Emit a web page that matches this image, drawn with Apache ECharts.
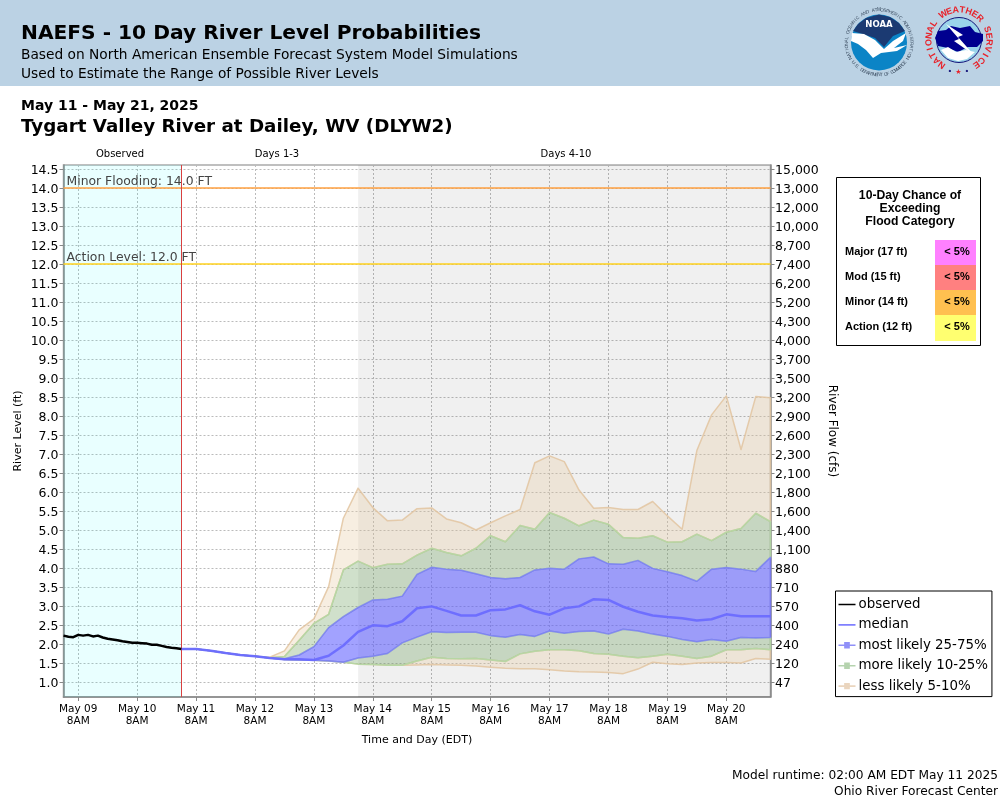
<!DOCTYPE html>
<html>
<head>
<meta charset="utf-8">
<title>NAEFS - 10 Day River Level Probabilities</title>
<script src="https://cdn.jsdelivr.net/npm/echarts@6/dist/echarts.min.js"></script>
<style>
  html, body { margin: 0; padding: 0; background: #fff; }
  #chart { width: 1000px; height: 800px; }
</style>
</head>
<body>
<div id="chart"></div>
<script>
// Hours are counted from May 09 02:00 EDT, the left edge of the plot
const dayLabels = ["May 09\n8AM", "May 10\n8AM", "May 11\n8AM", "May 12\n8AM", "May 13\n8AM", "May 14\n8AM",
  "May 15\n8AM", "May 16\n8AM", "May 17\n8AM", "May 18\n8AM", "May 19\n8AM", "May 20\n8AM"];
const levelTicks = [14.5, 14, 13.5, 13, 12.5, 12, 11.5, 11, 10.5, 10, 9.5, 9, 8.5, 8, 7.5, 7, 6.5, 6, 5.5, 5,
  4.5, 4, 3.5, 3, 2.5, 2, 1.5, 1];
const flowLabels = ["15,000", "13,000", "12,000", "10,000", "8,700", "7,400", "6,200", "5,200", "4,300", "4,000",
  "3,700", "3,500", "3,200", "2,900", "2,600", "2,300", "2,100", "1,800", "1,600", "1,400",
  "1,100", "880", "710", "570", "400", "240", "120", "47"];

// observed stage, one reading every 2 hours up to model runtime
const observed = [2.22, 2.19, 2.18, 2.24, 2.22, 2.24, 2.20, 2.22, 2.17, 2.14, 2.12, 2.10, 2.07,
  2.05, 2.03, 2.03, 2.02, 2.01, 1.98, 1.98, 1.95, 1.92, 1.90, 1.89, 1.87];

// forecast percentiles, one value every 6 hours from May 11 02:00
const median = [1.87, 1.87, 1.82, 1.76, 1.71, 1.68, 1.63, 1.60, 1.60, 1.58, 1.69, 1.96, 2.32, 2.49, 2.47, 2.60, 2.94,
  2.99, 2.87, 2.75, 2.75, 2.89, 2.91, 3.02, 2.86, 2.77, 2.94, 2.99, 3.18, 3.16, 2.98, 2.85, 2.75, 2.71, 2.68, 2.62,
  2.65, 2.78, 2.73, 2.73, 2.73];
const p95 = [1.87, 1.87, 1.82, 1.76, 1.71, 1.68, 1.65, 1.82, 2.37, 2.66, 3.51, 5.31, 6.10, 5.59, 5.24, 5.26, 5.56,
  5.58, 5.29, 5.19, 5.00, 5.19, 5.37, 5.54, 6.77, 6.95, 6.80, 6.05, 5.57, 5.59, 5.54, 5.54, 5.75, 5.37, 5.02, 7.09,
  8.03, 8.53, 7.12, 8.51, 8.48];
const p90 = [1.87, 1.87, 1.82, 1.76, 1.71, 1.68, 1.64, 1.67, 2.10, 2.54, 2.78, 3.95, 4.18, 4.01, 4.10, 4.11, 4.34,
  4.52, 4.41, 4.32, 4.52, 4.85, 4.69, 5.12, 5.02, 5.46, 5.31, 5.11, 5.26, 5.15, 4.80, 4.78, 4.85, 4.68, 4.69, 4.89,
  4.72, 4.94, 5.04, 5.44, 5.22];
const p75 = [1.87, 1.87, 1.82, 1.76, 1.71, 1.68, 1.63, 1.61, 1.71, 1.93, 2.43, 2.72, 2.96, 3.16, 3.18, 3.26, 3.83,
  4.02, 3.97, 3.94, 3.85, 3.75, 3.72, 3.75, 3.95, 3.99, 3.97, 4.24, 4.29, 4.11, 4.10, 4.20, 3.99, 3.90, 3.80, 3.65,
  3.97, 4.01, 3.97, 3.91, 4.28];
const p25 = [1.87, 1.87, 1.82, 1.76, 1.71, 1.68, 1.63, 1.59, 1.58, 1.57, 1.55, 1.52, 1.63, 1.68, 1.75, 2.03, 2.18,
  2.32, 2.30, 2.31, 2.31, 2.22, 2.18, 2.25, 2.20, 2.34, 2.28, 2.33, 2.34, 2.26, 2.39, 2.34, 2.26, 2.20, 2.12, 2.06,
  2.12, 2.07, 2.17, 2.16, 2.17];
const p10 = [1.87, 1.87, 1.82, 1.76, 1.71, 1.68, 1.63, 1.59, 1.58, 1.57, 1.55, 1.52, 1.47, 1.46, 1.44, 1.44, 1.55,
  1.65, 1.62, 1.61, 1.62, 1.58, 1.54, 1.74, 1.81, 1.85, 1.85, 1.82, 1.75, 1.73, 1.68, 1.64, 1.68, 1.73, 1.68, 1.62,
  1.68, 1.85, 1.85, 1.88, 1.85];
const p5 = [1.87, 1.87, 1.82, 1.76, 1.71, 1.68, 1.63, 1.59, 1.58, 1.57, 1.55, 1.52, 1.47, 1.46, 1.44, 1.44, 1.45,
  1.46, 1.45, 1.44, 1.42, 1.39, 1.36, 1.35, 1.35, 1.32, 1.29, 1.27, 1.26, 1.25, 1.22, 1.34, 1.52, 1.48, 1.46, 1.50,
  1.51, 1.51, 1.50, 1.62, 1.60];

const floodNames = ["Major (17 ft)", "Mod (15 ft)", "Minor (14 ft)", "Action (12 ft)"];
const floodChance = ["< 5%", "< 5%", "< 5%", "< 5%"];
const floodColors = ["#FF80FF", "#FF8080", "#FFC050", "#FFFF70"];

const SANS = '"DejaVu Sans"';
const ARIAL = '"Liberation Sans"';
const forecastHour = (i) => 48 + 6 * i;

const TAN = { fill: "rgba(233,207,173,0.36)", stroke: "rgba(226,196,160,0.85)" };
const GREEN = { fill: "rgba(126,169,111,0.36)", stroke: "rgba(180,216,164,0.9)" };
const BLUE = { fill: "rgba(100,100,255,0.6)", stroke: "rgba(118,118,255,0.7)" };

// --- bands: one polygon per percentile pair, placed through the axes ---
function bandShape(api, lower, upper, colors) {
  const points = [];
  lower.forEach((v, i) => points.push(api.coord([forecastHour(i), v])));
  for (let i = upper.length - 1; i >= 0; i--) points.push(api.coord([forecastHour(i), upper[i]]));
  return {
    type: "polygon",
    shape: { points: points },
    style: { fill: colors.fill, stroke: colors.stroke, lineWidth: 1.5, lineJoin: "round" },
  };
}

function bandSeries(name, pairs, colors, z) {
  return {
    name: name,
    type: "custom",
    coordinateSystem: "cartesian2d",
    z: z,
    itemStyle: { color: colors.fill },
    data: [[forecastHour(0), pairs[0][0][0]]],
    renderItem: (params, api) => ({
      type: "group",
      children: pairs.map((p) => bandShape(api, p[0], p[1], colors)),
    }),
  };
}

// legend glyphs: a line, with a small square for the bands
const ICON_LINE = "path://M0 0h.01v.01H0z M24 10h-.01v-.01H24z M0 4h24v2H0z";
const ICON_BAND = "path://M0 4h8V1h8v3h8v2h-8v3H8V6H0z M0 0h.01v.01H0z M24 10h-.01v-.01H24z";

// --- header, table and logos ---
function label(text, x, y, font, size, weight, color, align) {
  return {
    type: "text",
    silent: true,
    x: x,
    y: y + 1,
    style: {
      text: text,
      fontFamily: font,
      fontSize: size,
      fontWeight: weight || "normal",
      fill: color || "#000",
      align: align || "left",
      verticalAlign: "middle",
    },
  };
}

function shape(points, fill) {
  return { type: "polygon", silent: true, shape: { points: points }, style: { fill: fill } };
}

function ringText(text, cx, cy, r, from, to, size, weight, color, font, inward) {
  // letters spaced along an arc, angles in degrees clockwise from the top
  const step = (to - from) / (text.length - 1);
  return text.split("").map((ch, i) => {
    const a = ((from + step * i) * Math.PI) / 180;
    return {
      type: "text",
      silent: true,
      x: cx + r * Math.sin(a),
      y: cy - r * Math.cos(a),
      rotation: inward ? Math.PI - a : -a,
      style: { text: ch, fontFamily: font, fontSize: size, fontWeight: weight, fill: color, align: "center", verticalAlign: "middle" },
    };
  });
}

function noaaLogo() {
  const cx = 879, cy = 42.5;
  return [
    { type: "circle", silent: true, shape: { cx: cx, cy: cy, r: 28 }, style: { fill: "#0B84C6" } },
    shape([[853, 31], [858, 24], [866, 18], [879, 14.5], [890, 17], [899, 23], [905, 31], [893, 36], [884, 47], [875, 38]], "#1B3A72"),
    shape([[852, 33], [864, 34], [875, 40], [884, 49], [893, 41], [906, 33], [903, 41], [894, 48], [907, 45], [897, 51], [881, 53], [873, 58], [866, 50], [858, 44], [851, 41]], "#fff"),
    label("NOAA", cx, 24, SANS, 8.5, "bold", "#fff", "center"),
  ].concat(
    ringText("NATIONAL OCEANIC AND ATMOSPHERIC ADMINISTRATION", cx, cy, 32.5, -118, 118, 4.7, "normal", "#3D4F63", ARIAL, false),
    ringText("U.S. DEPARTMENT OF COMMERCE", cx, cy, 32.5, 232, 128, 4.7, "normal", "#3D4F63", ARIAL, true)
  );
}

function nwsLogo() {
  const cx = 959, cy = 40;
  return [
    { type: "circle", silent: true, shape: { cx: cx, cy: cy, r: 22.5 }, style: { fill: "#9AD4EA", stroke: "#12127A", lineWidth: 1 } },
    shape([[935, 38], [938, 31], [946, 30], [951, 26], [960, 28], [970, 26], [975, 32], [983, 34], [983, 41], [977, 47], [968, 47], [958, 52], [948, 48], [938, 46]], "#00008F"),
    shape([[941, 50], [948, 47], [956, 52], [966, 50], [975, 52], [967, 59], [958, 61], [948, 58]], "#fff"),
    shape([[946, 24], [963, 35], [958, 37], [974, 55], [954, 41], [959, 39]], "#fff"),
  ].concat(
    ringText("NATIONAL WEATHER SERVICE", cx, cy, 30, -145, 145, 9, "bold", "#E8222A", ARIAL, false),
    [label("•", 950, 70, ARIAL, 8, "bold", "#12127A", "center"),
     label("★", 958.5, 71, SANS, 7, "normal", "#E8222A", "center"),
     label("•", 967, 70, ARIAL, 8, "bold", "#12127A", "center")]
  );
}

function floodTable() {
  const items = [
    { type: "rect", silent: true, shape: { x: 836.5, y: 177.5, width: 144, height: 168 }, style: { fill: "#fff", stroke: "#000", lineWidth: 1 } },
    label("10-Day Chance of", 910, 195, ARIAL, 12.2, "bold", "#000", "center"),
    label("Exceeding", 910, 208, ARIAL, 12.2, "bold", "#000", "center"),
    label("Flood Category", 910, 221, ARIAL, 12.2, "bold", "#000", "center"),
  ];
  floodNames.forEach((name, i) => {
    const top = 240 + i * 25;
    items.push({ type: "rect", silent: true, shape: { x: 935, y: top, width: 41, height: 26 }, style: { fill: floodColors[i] } });
    items.push(label(name, 845, top + 11, ARIAL, 11, "bold", "#000", "left"));
    items.push(label(floodChance[i], 957, top + 11, ARIAL, 11, "bold", "#000", "center"));
  });
  return items;
}

const graphics = [
  { type: "rect", silent: true, z: -1, shape: { x: 0, y: 0, width: 1000, height: 86 }, style: { fill: "#BBD2E4" } },
  label("NAEFS - 10 Day River Level Probabilities", 21, 33, SANS, 20.2, "bold"),
  label("Based on North American Ensemble Forecast System Model Simulations", 21, 54, SANS, 13.75, "normal"),
  label("Used to Estimate the Range of Possible River Levels", 21, 73, SANS, 13.75, "normal"),
  label("May 11 - May 21, 2025", 21, 105, SANS, 14, "bold"),
  label("Tygart Valley River at Dailey, WV (DLYW2)", 21, 126, SANS, 18.3, "bold"),
  label("Observed", 120, 153.5, SANS, 10, "normal", "#000", "center"),
  label("Days 1-3", 277, 153.5, SANS, 10, "normal", "#000", "center"),
  label("Days 4-10", 566, 153.5, SANS, 10, "normal", "#000", "center"),
  label("Model runtime: 02:00 AM EDT May 11 2025", 998, 775, SANS, 12.2, "normal", "#000", "right"),
  label("Ohio River Forecast Center", 998, 791, SANS, 12.2, "normal", "#000", "right"),
].concat(noaaLogo(), nwsLogo(), floodTable());

const axisLine = { show: true, lineStyle: { color: "#888", width: 1.5 } };
const gridDash = { show: true, lineStyle: { color: "#bbb", type: [2, 2], width: 1 } };
const tickStyle = { show: true, length: 4, lineStyle: { color: "#888" } };

// y tick labels sit a little under their ticks in the reference
const tickRich = (size) => ({
  v: { fontFamily: SANS, fontSize: size, color: "#000", padding: [4, 0, 0, 0] },
});

const chart = echarts.init(document.getElementById("chart"));
chart.setOption({
  animation: false,
  backgroundColor: "#fff",
  graphic: { elements: graphics },
  grid: {
    left: 63.5,
    right: 229.5,
    top: 165,
    bottom: 103,
    show: true,
    backgroundColor: "#fff",
    borderColor: "#aaa",
    borderWidth: 1.5,
  },
  legend: {
    orient: "vertical",
    left: 835.5,
    top: 591,
    padding: [7, 4, 4, 3],
    itemGap: 7.4,
    itemWidth: 17,
    itemHeight: 8,
    symbolKeepAspect: false,
    borderColor: "#000",
    borderWidth: 1,
    backgroundColor: "#fff",
    textStyle: { fontFamily: SANS, fontSize: 13.4, color: "#000", padding: [0, 0, 0, -2] },
    data: [
      { name: "observed", icon: ICON_LINE, itemStyle: { color: "#000" } },
      { name: "median", icon: ICON_LINE, itemStyle: { color: "#8080FF" } },
      { name: "most likely 25-75%", icon: ICON_BAND, itemStyle: { color: "#9090F8" } },
      { name: "more likely 10-25%", icon: ICON_BAND, itemStyle: { color: "#B5D3AE" } },
      { name: "less likely 5-10%", icon: ICON_BAND, itemStyle: { color: "#EAD5BE" } },
    ],
  },
  xAxis: {
    type: "value",
    min: 0,
    max: 288,
    name: "Time and Day (EDT)",
    nameLocation: "middle",
    nameGap: 38,
    nameTextStyle: { fontFamily: SANS, fontSize: 11, color: "#000", align: "center" },
    axisLine: axisLine,
    axisTick: Object.assign({}, tickStyle, { customValues: dayLabels.map((d, i) => 6 + 24 * i) }),
    axisLabel: {
      customValues: dayLabels.map((d, i) => 6 + 24 * i),
      formatter: (v) => dayLabels[(v - 6) / 24],
      fontFamily: SANS,
      fontSize: 10.5,
      color: "#000",
      lineHeight: 12.5,
      margin: 6,
    },
    splitLine: gridDash,
  },
  yAxis: [
    {
      type: "value",
      min: 0.605,
      max: 14.605,
      position: "left",
      name: "River Level (ft)",
      nameLocation: "middle",
      nameGap: 39.5,
      nameMoveOverlap: false,
      nameTextStyle: { fontFamily: SANS, fontSize: 11, color: "#000" },
      axisLine: axisLine,
      axisTick: Object.assign({}, tickStyle, { customValues: levelTicks }),
      axisLabel: {
        customValues: levelTicks,
        formatter: (v) => `{v|${v.toFixed(1)}}`,
        rich: tickRich(12.5),
        margin: 5,
      },
      splitLine: gridDash,
    },
    {
      type: "value",
      min: 0.605,
      max: 14.605,
      position: "right",
      name: "River Flow (cfs)",
      nameLocation: "middle",
      nameRotate: -90,
      nameGap: 56,
      nameMoveOverlap: false,
      nameTextStyle: { fontFamily: SANS, fontSize: 12, color: "#000" },
      axisLine: axisLine,
      axisTick: Object.assign({}, tickStyle, { customValues: levelTicks }),
      axisLabel: {
        customValues: levelTicks,
        formatter: (v) => `{v|${flowLabels[levelTicks.indexOf(v)]}}`,
        rich: tickRich(12.5),
        margin: 4.5,
      },
      splitLine: { show: false },
    },
  ],
  series: [
    {
      // period shading and reference lines only
      name: "regions",
      type: "line",
      z: 1,
      data: [],
      silent: true,
      markArea: {
        silent: true,
        data: [
          [{ xAxis: 0, itemStyle: { color: "rgba(0,255,255,0.085)" } }, { xAxis: 48 }],
          [{ xAxis: 120, itemStyle: { color: "rgba(0,0,0,0.06)" } }, { xAxis: 288 }],
        ],
      },
      markLine: {
        silent: true,
        symbol: "none",
        animation: false,
        data: [
          {
            yAxis: 14,
            lineStyle: { color: "#FFA040", type: "solid", width: 1.5 },
            label: { formatter: "Minor Flooding: 14.0 FT", position: "insideStartTop", distance: [3, 0], color: "#444", fontFamily: SANS, fontSize: 12.4 },
          },
          {
            yAxis: 12,
            lineStyle: { color: "#FFD21E", type: "solid", width: 1.5 },
            label: { formatter: "Action Level: 12.0 FT", position: "insideStartTop", distance: [3, 0], color: "#444", fontFamily: SANS, fontSize: 12.4 },
          },
          {
            xAxis: 48,
            lineStyle: { color: "#D94040", type: "solid", width: 1 },
            label: { show: false },
          },
        ],
      },
    },
    bandSeries("less likely 5-10%", [[p5, p10], [p90, p95]], TAN, 2),
    bandSeries("more likely 10-25%", [[p10, p25], [p75, p90]], GREEN, 3),
    bandSeries("most likely 25-75%", [[p25, p75]], BLUE, 4),
    {
      name: "median",
      type: "line",
      z: 5,
      symbol: "none",
      lineStyle: { color: "rgba(105,105,255,0.9)", width: 2.5 },
      itemStyle: { color: "#8080FF" },
      data: median.map((v, i) => [forecastHour(i), v]),
    },
    {
      name: "observed",
      type: "line",
      z: 6,
      symbol: "none",
      lineStyle: { color: "#000", width: 2.5 },
      itemStyle: { color: "#000" },
      data: observed.map((v, i) => [i * 2, v]),
    },
  ],
});
</script>
</body>
</html>
